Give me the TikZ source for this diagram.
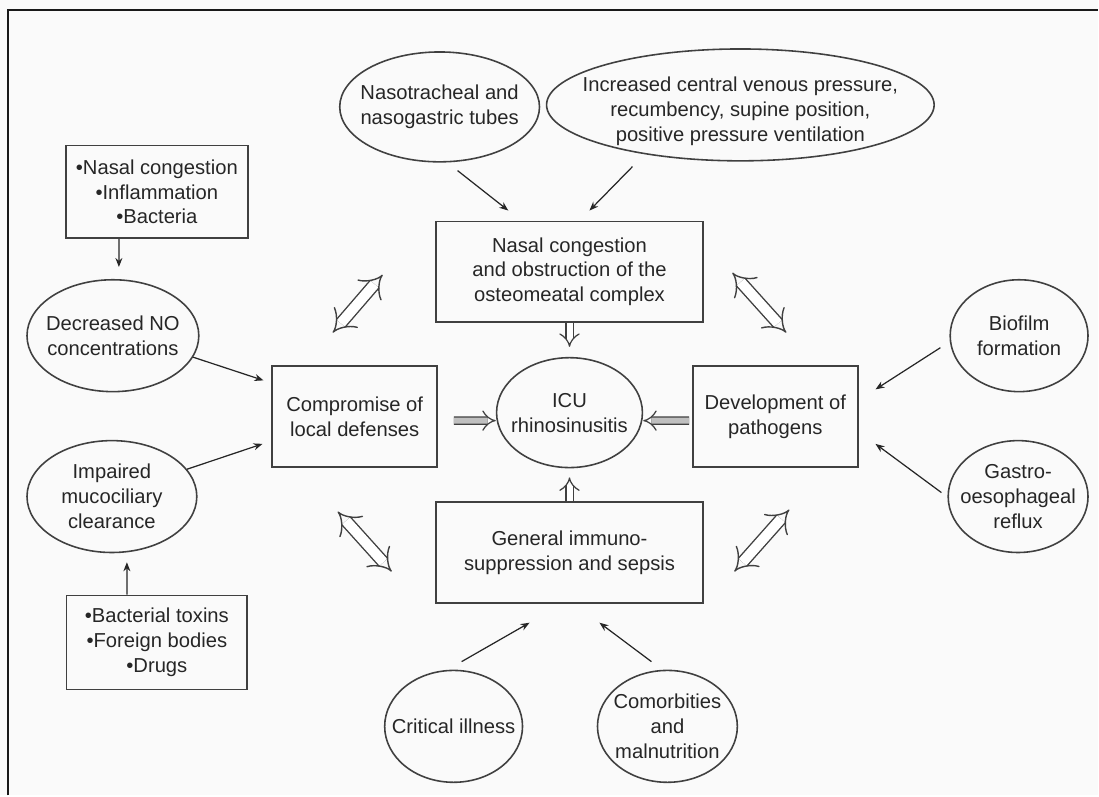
\documentclass[tikz,border=0pt]{standalone}
\usepackage{fontspec}
\setmainfont{Liberation Sans}
\usetikzlibrary{shapes,arrows.meta}

\begin{document}
\begin{tikzpicture}[x=0.02cm,y=-0.02cm,font=\fontsize{11.5}{14.2}\selectfont,
  box/.style={shape=rectangle,draw=black!75,align=center,line width=0.9pt,text=black!85,inner sep=0pt},
  oval/.style={shape=ellipse,draw=black!75,line width=0.9pt,inner sep=0pt},
  txt/.style={align=center,text=black!85,inner sep=0pt},
  pointer/.style={-{Stealth[length=1.8mm,width=1.4mm]},draw=black!85,line width=0.7pt},
  hollow/.style={{Implies}-{Implies},draw=black!75,line width=0.8pt,double=white,double distance=0.2cm},
  feed/.style={-{Implies},draw=black!75,line width=0.7pt,double=#1,double distance=0.12cm}]
\fill[black!2] (0,0) rectangle (1099,796);
\draw[line width=1.1pt,black!90] (8,796) -- (8,10) -- (1099,10);

\node[oval,minimum width=4cm,minimum height=2.2cm,label={[txt]center:{Nasotracheal and\\nasogastric tubes}}] (0) at (440,107) {};
\node[oval,minimum width=7.76cm,minimum height=2.24cm,label={[txt,yshift=-0.12cm]center:{Increased central venous pressure,\\recumbency, supine position,\\positive pressure ventilation}}] (1) at (741,105) {};
\node[box,minimum width=3.64cm,minimum height=1.86cm] (2) at (157,192) {•Nasal congestion\\•Inflammation\\•Bacteria};
\node[oval,minimum width=3.44cm,minimum height=2.24cm,label={[txt]center:{Decreased NO\\concentrations}}] (3) at (113,336) {};
\node[oval,minimum width=3.4cm,minimum height=2.24cm,label={[txt]center:{Impaired\\mucociliary\\clearance}}] (4) at (112,497) {};
\node[box,minimum width=3.62cm,minimum height=1.88cm] (5) at (157,643) {•Bacterial toxins\\•Foreign bodies\\•Drugs};
\node[box,minimum width=5.34cm,minimum height=2.02cm] (6) at (570,272) {Nasal congestion\\and obstruction of the\\osteomeatal complex};
\node[box,minimum width=3.3cm,minimum height=2.02cm] (7) at (355,417) {Compromise of\\local defenses};
\node[oval,minimum width=2.92cm,minimum height=2.2cm,label={[txt]center:{ICU\\rhinosinusitis}}] (8) at (570,413) {};
\node[box,minimum width=3.3cm,minimum height=2.02cm] (9) at (776,417) {Development of\\pathogens};
\node[box,minimum width=5.34cm,minimum height=2.02cm] (10) at (570,553) {General immuno-\\suppression and sepsis};
\node[oval,minimum width=2.76cm,minimum height=2.24cm,label={[txt]center:{Biofilm\\formation}}] (11) at (1020,336) {};
\node[oval,minimum width=2.8cm,minimum height=2.24cm,label={[txt]center:{Gastro-\\oesophageal\\reflux}}] (12) at (1019,497) {};
\node[oval,minimum width=2.76cm,minimum height=2.24cm,label={[txt]center:{Critical illness}}] (13) at (454,727) {};
\node[oval,minimum width=2.8cm,minimum height=2.24cm,label={[txt]center:{Comorbities\\and\\malnutrition}}] (14) at (668,727) {};

\coordinate (15) at (383,275);
\coordinate (16) at (333,333);
\coordinate (17) at (733,273);
\coordinate (18) at (787,333);
\coordinate (19) at (338,512);
\coordinate (20) at (392,572);
\coordinate (21) at (735,572);
\coordinate (22) at (790,510);

\path ([xshift=-0.76cm]2.south) edge[pointer,shorten >=0.24cm] node {} ([xshift=0.12cm]3.north);
\path (3.-15) edge[pointer] node {} ([xshift=-0.16cm,yshift=-0.3cm]7.north west);
\path (4.20) edge[pointer] node {} ([xshift=-0.18cm,yshift=0.48cm]7.south west);
\path ([xshift=-0.6cm]5.north) edge[pointer] node {} ([xshift=0.3cm,yshift=-0.18cm]4.south);
\path ([xshift=0.36cm,yshift=-0.16cm]0.south) edge[pointer] node {} ([xshift=1.46cm,yshift=0.2cm]6.north west);
\path ([xshift=-2.16cm,yshift=-0.1cm]1.south) edge[pointer] node {} ([xshift=0.4cm,yshift=0.2cm]6.north);
\path ([xshift=-0.18cm,yshift=-0.24cm]11.west) edge[pointer] node {} ([xshift=0.34cm,yshift=-0.48cm]9.north east);
\path ([xshift=-0.12cm,yshift=0.08cm]12.west) edge[pointer] node {} ([xshift=0.34cm,yshift=0.48cm]9.south east);
\path ([xshift=0.16cm,yshift=0.16cm]13.north) edge[pointer] node {} ([xshift=-0.8cm,yshift=-0.38cm]10.south);
\path ([xshift=-0.32cm,yshift=0.16cm]14.north) edge[pointer] node {} ([xshift=0.6cm,yshift=-0.38cm]10.south);

\path (6.south) edge[feed=white,shorten >=0.2cm] node {} (8.north);
\path (10.north) edge[feed=white,shorten >=0.18cm] node {} (8.south);
\path ([xshift=0.32cm,yshift=-0.08cm]7.east) edge[feed=gray!50] node {} ([yshift=-0.16cm]8.west);
\path ([xshift=-0.06cm,yshift=-0.08cm]9.west) edge[feed=gray!50] node {} ([yshift=-0.16cm]8.east);

\path (15) edge[hollow] node {} (16);
\path (17) edge[hollow] node {} (18);
\path (19) edge[hollow] node {} (20);
\path (21) edge[hollow] node {} (22);
\end{tikzpicture}
\end{document}
